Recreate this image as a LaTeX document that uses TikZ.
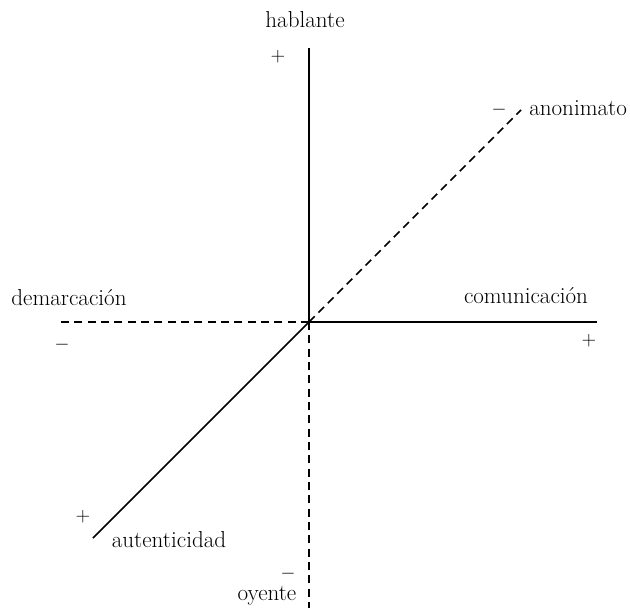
\documentclass[tikz,border=0pt]{standalone}
\usepackage{tikz}

\begin{document}
\begin{tikzpicture}
      [x=0.75pt,y=-0.75pt
      ,lin/.style={color=black,line width=1.3pt}
      ,lindash/.style={color=black,line width=1.3pt,dash pattern=on 6pt off 4pt}
      ,lbl/.style={inner sep=0pt,font=\fontsize{17.3}{19}\selectfont}
      ,sgn/.style={inner sep=0pt,font=\fontsize{14}{16}\selectfont}
      ]
        \useasboundingbox (0,0) rectangle (630,608);
        \coordinate (o) at (309,322);
        \coordinate (top) at (309,48);
        \coordinate (bot) at (309,608);
        \coordinate (lft) at (57,322);
        \coordinate (rgt) at (597,322);
        \coordinate (ne) at (521,110);
        \coordinate (sw) at (93,538);
        \draw[lin] (o) -- (top);
        \draw[lin] (o) -- (rgt);
        \draw[lin] (o) -- (sw);
        \draw[lindash] (o) -- (bot);
        \draw[lindash] (o) -- (lft);
        \draw[lindash] (o) -- (ne);
        % labels
        \node[lbl] (hab) at (305,20) {hablante};
        \node[lbl] (oye) at (267,596) {oyente};
        \node[lbl] (dem) at (69,298) {demarcación};
        \node[lbl] (com) at (526,296) {comunicación};
        \node[lbl,anchor=west] (ano) at (529,108) {anonimato};
        \node[lbl] (aut) at (169,540) {autenticidad};
        % signs
        \node[sgn] (habs) at (278,57) {$+$};
        \node[sgn] (oyes) at (288,574) {$-$};
        \node[sgn] (dems) at (62,345) {$-$};
        \node[sgn] (coms) at (589,341) {$+$};
        \node[sgn] (anos) at (499,110) {$-$};
        \node[sgn] (auts) at (83,517) {$+$};
      \end{tikzpicture}
\end{document}
